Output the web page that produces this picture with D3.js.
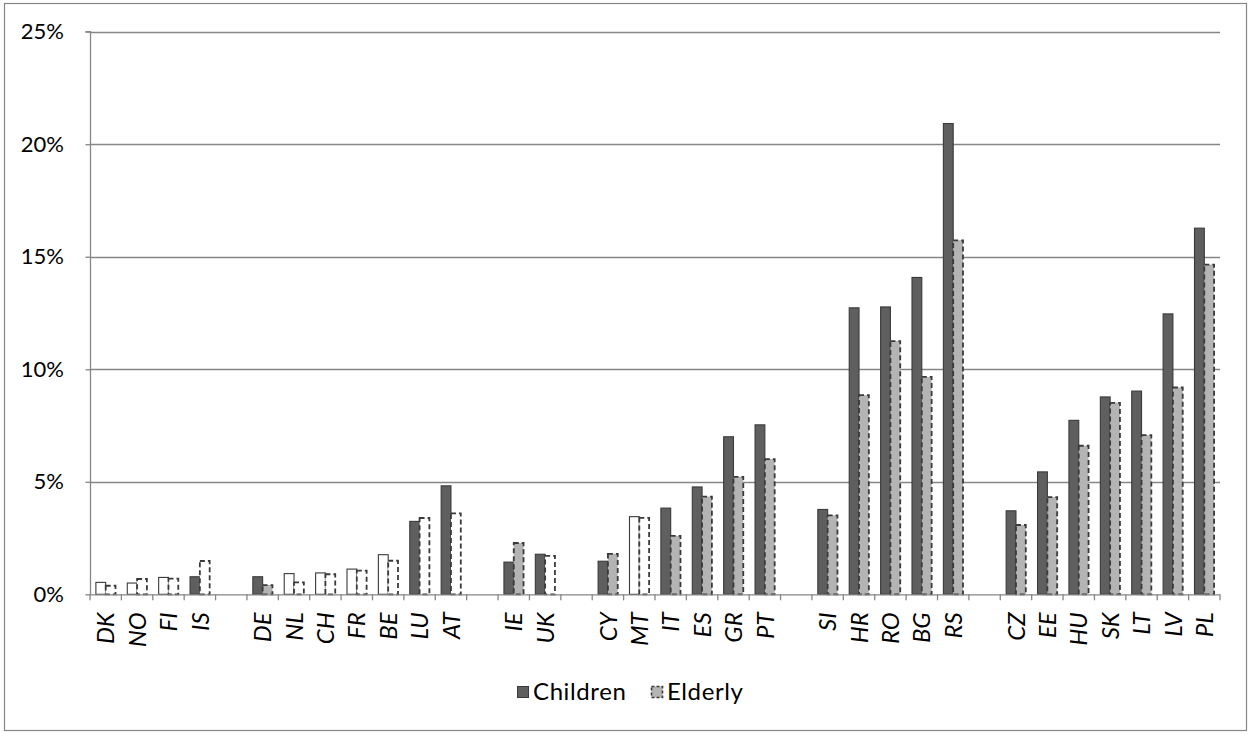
<!DOCTYPE html>
<html>
<head>
<meta charset="utf-8">
<script src="https://cdn.jsdelivr.net/npm/d3@7"></script>
<style>
  html, body { margin: 0; padding: 0; background: #fff; }
  svg { display: block; font-family: Lato, "Open Sans", sans-serif; }
</style>
</head>
<body>
<svg id="chart" width="1250" height="734"></svg>
<script>
// ---- data ----
const categories = ["DK","NO","FI","IS","","DE","NL","CH","FR","BE","LU","AT","","IE","UK","","CY","MT","IT","ES","GR","PT","","SI","HR","RO","BG","RS","","CZ","EE","HU","SK","LT","LV","PL"];
const children = [0.53,0.50,0.75,0.78,null,0.78,0.92,0.95,1.12,1.76,3.24,4.82,null,1.43,1.78,null,1.47,3.45,3.83,4.77,7.00,7.53,null,3.77,12.73,12.77,14.08,20.92,null,3.71,5.44,7.73,8.77,9.03,12.46,16.27];
const elderly  = [0.38,0.68,0.70,1.48,null,0.41,0.53,0.89,1.05,1.49,3.39,3.60,null,2.28,1.71,null,1.80,3.40,2.60,4.34,5.22,6.01,null,3.51,8.85,11.25,9.66,15.73,null,3.08,4.32,6.60,8.51,7.07,9.19,14.65];
// filled = true -> shaded bar, false -> outline only
const childrenFilled = [false,false,false,true,null,true,false,false,false,false,true,true,null,true,true,null,true,false,true,true,true,true,null,true,true,true,true,true,null,true,true,true,true,true,true,true];
const elderlyFilled  = [false,false,false,false,null,true,false,false,false,false,false,false,null,true,false,null,true,false,true,true,true,true,null,true,true,true,true,true,null,true,true,true,true,true,true,true];
const yTicks = [0,5,10,15,20,25];
const seriesNames = ["Children","Elderly"];

// ---- layout ----
const svg = d3.select("#chart");
const mLeft = 90, mRight = 1220, mTop = 31.7, mBottom = 594.3;
const axisColor = "#868686";
const darkFill = "#5f5f5f", lightFill = "#b4b4b4", strokeC = "#3a3a3a";

svg.append("rect").attr("x",4.5).attr("y",3.5).attr("width",1242).attr("height",727)
  .attr("fill","#fff").attr("stroke",axisColor).attr("stroke-width",1.2);

const x = d3.scaleBand().domain(d3.range(categories.length)).range([mLeft,mRight]).paddingInner(0).paddingOuter(0);
const groupW = x.bandwidth()*0.625;
const xs = d3.scaleBand().domain(seriesNames).range([0,groupW]);
const y = d3.scaleLinear().domain([0,25]).range([mBottom,mTop]);

// gridlines
svg.append("g").selectAll("line").data(yTicks.filter(d=>d>0)).join("line")
  .attr("x1",mLeft).attr("x2",mRight).attr("y1",d=>Math.round(y(d))+0.5).attr("y2",d=>Math.round(y(d))+0.5)
  .attr("stroke",axisColor).attr("stroke-width",1.3);

// y axis
const yAxis = d3.axisLeft(y).tickValues(yTicks).tickFormat(d=>d+"%").tickSize(5).tickPadding(21.5);
const gy = svg.append("g").attr("transform",`translate(${mLeft+0.5},0)`).call(yAxis);
gy.select(".domain").attr("stroke",axisColor).attr("stroke-width",1.3).attr("d",`M-5,${y(25)}H0V${y(0)}`);
gy.selectAll(".tick line").attr("stroke",axisColor).attr("stroke-width",1.3);
gy.selectAll(".tick text").attr("font-size",22).attr("fill","#000").attr("font-family","Lato, sans-serif");

// bars
const data = [];
categories.forEach((c,i)=>{
  if (children[i]!=null) data.push({i, s:"Children", v:children[i], f:childrenFilled[i]});
  if (elderly[i]!=null) data.push({i, s:"Elderly", v:elderly[i], f:elderlyFilled[i]});
});
const gb = svg.append("g");
gb.selectAll("rect").data(data).join("rect")
  .attr("x",d=>x(d.i)+(x.bandwidth()-groupW)/2+xs(d.s))
  .attr("width",xs.bandwidth())
  .attr("y",d=>y(d.v))
  .attr("height",d=>y(0)-y(d.v))
  .attr("fill",d=>d.f ? (d.s==="Children"?darkFill:lightFill) : "#fff")
  .attr("stroke",strokeC)
  .attr("stroke-width",d=>d.s==="Children"?1.1:1.8)
  .attr("stroke-dasharray",d=>d.s==="Elderly"?"5,3":null);

// x axis
const gx = svg.append("g").attr("transform",`translate(0,${mBottom})`);
gx.append("line").attr("x1",mLeft).attr("x2",mRight).attr("y1",0.5).attr("y2",0.5).attr("stroke",axisColor).attr("stroke-width",1.3);
const bounds = d3.range(categories.length).map(i=>x(i)).concat([mRight]);
gx.selectAll("line.tk").data(bounds).join("line").attr("class","tk")
  .attr("x1",d=>d).attr("x2",d=>d).attr("y1",0).attr("y2",6)
  .attr("stroke",axisColor).attr("stroke-width",1.3);
gx.selectAll("text").data(categories.map((c,i)=>({c,i})).filter(d=>d.c)).join("text")
  .attr("transform",d=>`translate(${x(d.i)+x.bandwidth()/2},18) rotate(-90)`)
  .attr("text-anchor","end").attr("dy","0.36em")
  .attr("font-size",24).attr("font-style","italic").attr("fill","#000")
  .text(d=>d.c);

// legend
const legend = svg.append("g").attr("transform","translate(517,692)");
const li = [{n:"Children",x:0,fill:darkFill,dash:null,w:1},{n:"Elderly",x:134,fill:lightFill,dash:"3,2",w:1.6}];
const lg = legend.selectAll("g").data(li).join("g").attr("transform",d=>`translate(${d.x},0)`);
lg.append("rect").attr("x",0.5).attr("y",-5.5).attr("width",11).attr("height",11)
  .attr("fill",d=>d.fill).attr("stroke",strokeC).attr("stroke-width",d=>d.w).attr("stroke-dasharray",d=>d.dash);
lg.append("text").attr("x",16).attr("y",0).attr("dy","0.35em").attr("font-size",24).attr("letter-spacing",0.6).attr("fill","#000").text(d=>d.n);
</script>
</body>
</html>
